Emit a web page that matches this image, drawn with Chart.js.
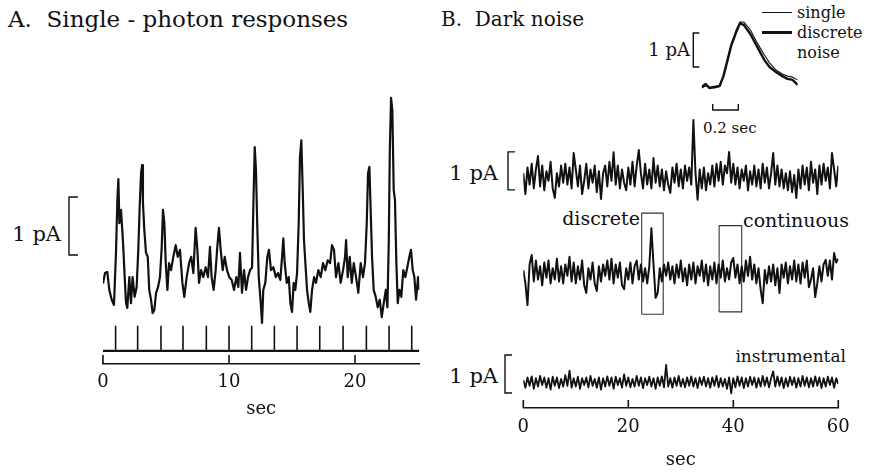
<!DOCTYPE html>
<html lang="en">
<head>
<meta charset="UTF-8">
<title>Single-photon responses and dark noise</title>
<script src="https://cdn.jsdelivr.net/npm/chart.js"></script>
<style>
  body {
    margin: 0;
    background: #fff;
    width: 875px;
    height: 474px;
    position: relative;
    overflow: hidden;
    font-family: 'DejaVu Serif', serif;
    color: #111;
  }
  canvas { position: absolute; left: 0; top: 0; }
  .lbl { position: absolute; white-space: nowrap; line-height: 1; transform: translateY(-50%); }
  .right { transform: translate(-100%, -50%); }
  .key { position: absolute; background: #111; width: 30px; }
</style>
</head>
<body>
  <div class="lbl" style="left:8px; top:19px; font-size:23px;">A.&nbsp; Single - photon responses</div>
  <div class="lbl" style="left:441px; top:19px; font-size:20px;">B.&nbsp; Dark noise</div>

  <div class="lbl right" style="left:61px; top:234px; font-size:21px;">1 pA</div>
  <div class="lbl right" style="left:498px; top:173px; font-size:21px;">1 pA</div>
  <div class="lbl right" style="left:498px; top:376px; font-size:21px;">1 pA</div>
  <div class="lbl right" style="left:690px; top:50px; font-size:18px;">1 pA</div>

  <div class="lbl right" style="left:640px; top:218px; font-size:19px;">discrete</div>
  <div class="lbl" style="left:743px; top:220px; font-size:19px;">continuous</div>
  <div class="lbl right" style="left:846px; top:356px; font-size:17px;">instrumental</div>

  <div class="key" style="left:762px; top:12px; height:1px;"></div>
  <div class="key" style="left:762px; top:31px; height:2.5px;"></div>
  <div class="lbl" style="left:797px; top:13px; font-size:16px;">single</div>
  <div class="lbl" style="left:797px; top:33px; font-size:16px;">discrete</div>
  <div class="lbl" style="left:797px; top:53px; font-size:16px;">noise</div>
  <div class="lbl" style="left:703px; top:128px; font-size:15px;">0.2 sec</div>

  <canvas id="chartA" width="875" height="474"></canvas>
  <canvas id="chartB" width="875" height="474"></canvas>
  <canvas id="chartInset" width="875" height="474"></canvas>

<script>
// ---- Panel A: single-photon responses, current (pA) vs time (sec)
const aTime = [0, 0.16, 0.34, 0.5, 0.69, 0.87, 1.03, 1.14, 1.22, 1.3,
  1.43, 1.53, 1.61, 1.72, 1.83, 1.93, 2.09, 2.22, 2.35, 2.51,
  2.67, 2.8, 2.91, 3.02, 3.1, 3.17, 3.28, 3.41, 3.55, 3.67,
  3.81, 3.94, 4.07, 4.21, 4.37, 4.52, 4.66, 4.76, 4.87, 4.98,
  5.11, 5.24, 5.4, 5.58, 5.77, 5.93, 6.11, 6.3, 6.45, 6.64,
  6.83, 7.0, 7.17, 7.35, 7.49, 7.62, 7.78, 7.96, 8.15, 8.33,
  8.49, 8.62, 8.78, 8.94, 9.07, 9.2, 9.34, 9.5, 9.66, 9.84,
  10.02, 10.21, 10.4, 10.58, 10.74, 10.87, 11.03, 11.19, 11.35, 11.51,
  11.67, 11.83, 11.93, 12.04, 12.14, 12.25, 12.36, 12.52, 12.62,
  12.72, 12.88, 13.04, 13.17, 13.33, 13.52, 13.71, 13.89, 14.07, 14.21,
  14.31, 14.42, 14.58, 14.74, 14.87, 15.0, 15.13, 15.26, 15.4, 15.53,
  15.63, 15.74, 15.85, 15.95, 16.06, 16.19, 16.33, 16.45, 16.59, 16.75,
  16.9, 17.09, 17.28, 17.46, 17.64, 17.83, 18.02, 18.17, 18.33, 18.49,
  18.68, 18.86, 19.05, 19.21, 19.29, 19.42, 19.58, 19.74, 19.9, 20.08,
  20.26, 20.45, 20.63, 20.79, 20.93, 21.03, 21.14, 21.24, 21.35, 21.48,
  21.64, 21.8, 21.96, 22.12, 22.28, 22.44, 22.57, 22.68, 22.76, 22.86,
  22.96, 23.07, 23.17, 23.28, 23.39, 23.52, 23.67, 23.83, 23.99, 24.15,
  24.31, 24.44, 24.58, 24.71, 24.84, 25.0, 25.1];
const aCurrent = [-0.06, 0.12, 0.14, -0.17, -0.34, -0.43, 0.47, 1.38, 1.74, 0.98,
  1.21, 0.86, 0.57, 0.05, -0.4, -0.48, 0.05, -0.4, 0.05, -0.29,
  -0.12, 0.52, 1.26, 1.84, 1.98, 1.33, 0.86, 0.47, 0.4, -0.17,
  -0.34, -0.57, -0.52, -0.22, -0.12, 0.05, 0.57, 1.21, 0.98, 0.29,
  -0.17, 0.29, 0.17, 0.4, 0.6, 0.4, 0.52, -0.05, -0.29, 0.05,
  0.29, 0.4, 0.12, 0.9, 0.52, -0.05, 0.17, 0.05, 0.22, 0.05,
  0.57, 0.05, -0.17, 0.17, 0.57, 0.9, 0.52, 0.17, 0.4, 0.17,
  0.05, 0, -0.17, 0.05, -0.12, 0.47, -0.22, 0.17, -0.17, 0.05,
  0.17, 0.22, 1.26, 2.29, 1.9, 0.86, 0.05, -0.4, -0.74,
  -0.17, -0.05, 0.4, 0.52, 0.17, 0.22, 0.05, 0.12, 0, 0.4,
  0.72, 0.29, -0.05, 0.05, -0.4, -0.55, -0.05, -0.17, 0.12, 0.98,
  2.12, 2.41, 1.55, 0.69, 0.29, -0.17, -0.4, -0.55, -0.17, 0.05,
  -0.05, 0.17, 0.05, 0.29, 0.17, 0.34, 0.29, 0.6, 0.52, 0.05,
  0.29, -0.05, 0.17, 0.4, 0.69, 0.05, 0.4, -0.05, 0.29, 0.05,
  -0.22, 0.29, 0.05, 0.29, 0.98, 1.84, 1.95, 1.21, 0.4, -0.17,
  -0.29, -0.47, -0.34, -0.64, -0.4, -0.17, -0.47, 0.69, 2.24, 3.14,
  2.93, 1.55, 1.38, 0.29, -0.4, -0.17, -0.29, 0.17, 0.05, 0.22,
  0.4, 0.52, 0.17, 0.05, -0.34, 0.05, -0.17];
// flash times (sec)
const aFlashTimes = [1.0, 2.75, 4.6, 6.35, 8.2, 10.0, 11.8, 13.6, 15.4, 17.2, 19.05, 20.9, 22.7, 24.5];
const aTicks = [0, 10, 20];

// ---- Panel B: dark noise, sampled every 0.4 sec (pA)
const bDt = 0.4;
const bNoiseTop = [0.1, -0.45, 0.25, -0.2, 0.35, -0.3, 0.2, 0.55, -0.25, 0.3,
  -0.35, 0.15, -0.1, 0.4, -0.3, -0.55, 0.1, -0.25, 0.3, -0.15,
  0.35, -0.2, 0.25, -0.3, 0.63, 0.2, -0.25, 0.3, -0.45, -0.1,
  0.35, -0.3, 0.2, -0.15, 0.3, -0.4, 0.15, -0.58, 0.1, 0.3,
  -0.25, 0.4, -0.1, 0.65, -0.2, 0.3, -0.3, 0.2, -0.15, -0.35,
  0.25, -0.2, 0.4, -0.25, 0.3, 0.71, 0.1, -0.3, 0.35, -0.2,
  0.2, -0.3, 0.5, -0.15, 0.3, -0.25, 0.2, -0.35, 0.15, -0.2,
  -0.42, 0.25, -0.15, 0.35, -0.25, 0.2, -0.3, 0.3, -0.1, 0.25,
  -0.2, 1.5, 0.1, -0.6, 0.2, -0.3, 0.25, -0.35, 0.1, -0.2,
  0.3, -0.25, 0.35, -0.1, 0.4, -0.2, 0.3, 0.1, 0.66, -0.15,
  0.35, -0.2, 0.25, -0.3, 0.2, -0.1, 0.3, -0.35, 0.15, -0.2,
  0.3, -0.25, 0.2, -0.3, 0.35, -0.15, 0.25, -0.3, 0.1, 0.63,
  -0.2, 0.3, -0.25, 0.2, -0.3, 0.1, -0.35, 0.15, -0.4, 0.05,
  -0.55, 0.2, -0.3, 0.3, -0.2, 0.25, -0.35, 0.4, -0.15, 0.2,
  -0.45, 0.3, -0.2, 0.35, -0.1, 0.25, -0.3, 0.63, 0.2, -0.25,
  0.3];
const bNoiseMid = [0.05, -0.3, -0.87, 0.2, 0.45, -0.25, 0.3, -0.2, 0.15, -0.35,
  0.25, -0.15, 0.3, -0.3, 0.1, -0.2, 0.35, -0.25, 0.15, -0.3,
  0.2, -0.1, 0.4, -0.25, 0.25, -0.3, 0.15, -0.2, 0.3, -0.35,
  -0.55, 0.1, -0.2, 0.25, -0.3, -0.5, 0.15, -0.25, 0.2, -0.1,
  0.3, -0.2, 0.35, -0.3, 0.2, -0.15, 0.25, -0.35, -0.45, 0.1,
  -0.2, 0.25, -0.3, 0.15, 0.3, -0.2, 0.2, -0.25, 0.1, -0.3,
  0.15, 1.15, 0.2, -0.68, -0.55, 0.1, -0.25, 0.2, -0.1, 0.25,
  -0.2, 0.15, -0.3, 0.2, -0.15, 0.3, -0.25, 0.1, -0.35, 0.2,
  -0.2, 0.25, -0.3, 0.15, -0.1, 0.3, -0.25, 0.2, -0.35, 0.15,
  -0.2, 0.25, -0.3, 0.2, -0.15, 0.3, -0.25, 0.1, -0.2, 0.25,
  0.37, -0.15, 0.2, -0.3, 0.15, -0.25, 0.3, -0.1, 0.4, -0.2,
  0.2, -0.3, 0.1, -0.45, -0.82, 0.05, -0.3, 0.15, -0.25, 0.2,
  -0.35, 0.1, -0.55, 0.2, -0.15, 0.25, -0.3, 0.15, -0.2, 0.3,
  -0.25, 0.2, -0.3, 0.25, -0.15, 0.3, -0.4, -0.2, 0.1, -0.66,
  -0.3, 0.15, -0.25, 0.2, 0.32, -0.1, 0.3, -0.2, 0.5, 0.25,
  0.35];
const bNoiseInstr = [0.05, -0.15, 0.12, -0.1, 0.15, -0.18, 0.1, -0.12, 0.16, -0.08,
  0.12, -0.15, 0.1, -0.2, 0.14, -0.1, 0.12, -0.16, 0.08, -0.12,
  0.18, -0.1, 0.3, -0.15, 0.1, -0.12, 0.14, -0.18, 0.1, -0.08,
  0.12, -0.14, 0.16, -0.1, 0.08, -0.15, 0.12, -0.2, 0.1, -0.12,
  0.15, -0.1, 0.12, -0.18, 0.14, -0.08, 0.1, -0.15, 0.2, -0.1,
  0.12, -0.14, 0.08, -0.12, 0.16, -0.1, 0.12, -0.16, 0.1, -0.08,
  0.14, -0.12, 0.1, -0.18, 0.12, -0.1, 0.15, -0.14, 0.45, -0.12,
  0.1, -0.15, 0.12, -0.1, 0.16, -0.12, 0.08, -0.14, 0.12, -0.1,
  0.15, -0.12, 0.1, -0.16, 0.12, -0.08, 0.14, -0.12, 0.1, -0.15,
  0.12, -0.1, 0.16, -0.14, 0.1, -0.12, 0.08, -0.18, 0.12, -0.3,
  0.1, -0.14, 0.15, -0.1, 0.12, -0.16, 0.1, -0.12, 0.14, -0.08,
  0.12, -0.15, 0.1, -0.12, 0.16, -0.1, 0.12, -0.14, 0.1, 0.28,
  -0.12, 0.15, -0.1, 0.12, -0.16, 0.1, -0.12, 0.14, -0.08, 0.12,
  -0.15, 0.1, -0.12, 0.16, -0.1, 0.12, -0.14, 0.1, -0.12, 0.15,
  -0.1, 0.12, -0.16, 0.1, -0.12, 0.14, -0.08, 0.12, -0.15, 0.1,
  -0.05];
// analysis windows (sec) marked by boxes on the middle trace
const discreteWindow = [22.55, 26.65];
const continuousWindow = [37.3, 41.6];
const bTicks = [0, 20, 40, 60];

// ---- Inset: averaged responses, time (sec) and current (pA)
const insetTime = [0, 0.03, 0.06, 0.1, 0.14, 0.17, 0.2, 0.23, 0.27, 0.3,
  0.33, 0.38, 0.43, 0.49, 0.53, 0.58, 0.63, 0.67, 0.71, 0.75];
const insetSingle = [-0.03, 0.03, 0, -0.03, 0.03, 0.35, 0.79, 1.26, 1.68, 1.91,
  1.91, 1.68, 1.32, 0.94, 0.71, 0.5, 0.38, 0.32, 0.29, 0.21];
const insetDiscrete = [0, 0.09, -0.03, 0, 0.03, 0.32, 0.76, 1.21, 1.62, 1.88,
  1.82, 1.56, 1.21, 0.79, 0.59, 0.44, 0.32, 0.24, 0.21, 0.06];

const INK = '#111';
Chart.defaults.font.family = "'DejaVu Serif', serif";
Chart.defaults.color = INK;

// scale bars, inward axis ticks
const marks = {
  id: 'marks',
  afterDraw(chart, args, opts) {
    const ctx = chart.ctx;
    ctx.save();
    ctx.strokeStyle = INK;
    ctx.lineCap = 'butt';
    if (opts.tickLen) {
      const xs = chart.scales.x, y0 = chart.chartArea.bottom;
      ctx.lineWidth = 1.6;
      xs.ticks.forEach(t => {
        const px = xs.getPixelForValue(t.value);
        ctx.beginPath();
        ctx.moveTo(px, y0);
        ctx.lineTo(px, y0 - opts.tickLen);
        ctx.stroke();
      });
    }
    (opts.brackets || []).forEach(b => {
      const ys = chart.scales[b.scale];
      const top = ys.getPixelForValue(b.from + 1);
      const bot = ys.getPixelForValue(b.from);
      ctx.lineWidth = 1.4;
      ctx.beginPath();
      ctx.moveTo(b.x + b.serif, top);
      ctx.lineTo(b.x, top);
      ctx.lineTo(b.x, bot);
      ctx.lineTo(b.x + b.serif, bot);
      ctx.stroke();
    });
    if (opts.timeBar) {
      const xs = chart.scales.x, tb = opts.timeBar;
      const x0 = xs.getPixelForValue(tb.start);
      const x1 = xs.getPixelForValue(tb.start + tb.length);
      ctx.lineWidth = 1.4;
      ctx.beginPath();
      ctx.moveTo(x0, tb.y - 6);
      ctx.lineTo(x0, tb.y);
      ctx.lineTo(x1, tb.y);
      ctx.lineTo(x1, tb.y - 6);
      ctx.stroke();
    }
    ctx.restore();
  }
};

const baseOpts = {
  responsive: false,
  animation: false,
  events: [],
  devicePixelRatio: 1,
  elements: { point: { radius: 0 }, line: { tension: 0, borderColor: INK, borderJoinStyle: 'round' } },
  plugins: { legend: { display: false }, tooltip: { enabled: false } }
};

function xAxis(min, max, ticks, height, labelPad, titlePad) {
  return {
    type: 'linear', min: min, max: max,
    afterFit: s => { s.height = height; },
    afterBuildTicks: s => { s.ticks = ticks.map(v => ({ value: v })); },
    grid: { display: false, drawTicks: false },
    border: { display: true, color: INK, width: 1.6 },
    ticks: { padding: labelPad, color: INK, font: { size: 18 } },
    title: { display: true, text: 'sec', color: INK, font: { size: 18 }, padding: { top: 0, bottom: titlePad } }
  };
}

function series(xs, ys) { return xs.map((x, i) => ({ x: x, y: ys[i] })); }
function sampled(ys, dt) { return ys.map((y, i) => ({ x: i * dt, y: y })); }

// ---- chart A
const FLASH_BASE = -1.22, FLASH_TOP = -0.79;
const flashData = [];
aFlashTimes.forEach(t => {
  flashData.push({ x: t, y: FLASH_BASE }, { x: t, y: FLASH_TOP }, { x: t, y: null });
});
const A_XMAX = 25.1;

new Chart(document.getElementById('chartA'), {
  type: 'line',
  data: {
    datasets: [
      { data: series(aTime, aCurrent), borderWidth: 2.2 },
      { data: flashData, borderWidth: 1.6, spanGaps: false },
      { data: [{ x: 0, y: FLASH_BASE }, { x: A_XMAX, y: FLASH_BASE }], borderWidth: 2.2 }
    ]
  },
  options: Object.assign({}, baseOpts, {
    layout: { padding: { left: 103, right: 875 - 419.3, top: 90, bottom: 0 } },
    scales: {
      x: xAxis(0, A_XMAX, aTicks, 110, 8, 54),
      y: { display: false, min: -1.448, max: 3.276 }
    },
    plugins: Object.assign({}, baseOpts.plugins, {
      marks: { tickLen: 9, brackets: [{ scale: 'y', x: 69, from: 0.43, serif: 9 }] }
    })
  }),
  plugins: [marks]
});

// ---- chart B
function box(win, lo, hi) {
  return [{ x: win[0], y: lo }, { x: win[0], y: hi }, { x: win[1], y: hi }, { x: win[1], y: lo }, { x: win[0], y: lo }];
}

new Chart(document.getElementById('chartB'), {
  type: 'line',
  data: {
    datasets: [
      { data: sampled(bNoiseTop, bDt), yAxisID: 'y1', borderWidth: 2.0 },
      { data: sampled(bNoiseMid, bDt), yAxisID: 'y2', borderWidth: 2.0 },
      { data: sampled(bNoiseInstr, bDt), yAxisID: 'y3', borderWidth: 1.8 },
      { data: box(discreteWindow, -1.11, 1.55), yAxisID: 'y2', borderWidth: 1.1, borderColor: '#333' },
      { data: box(continuousWindow, -1.05, 1.22), yAxisID: 'y2', borderWidth: 1.1, borderColor: '#333' }
    ]
  },
  options: Object.assign({}, baseOpts, {
    layout: { padding: { left: 523.3, right: 875 - 838.3, top: 110, bottom: 0 } },
    scales: {
      x: xAxis(0, 60, bTicks, 66, 9, 3),
      y1: { display: false, min: -6.079, max: 1.763 },
      y2: { display: false, min: -3.579, max: 4.263 },
      y3: { display: false, min: -0.684, max: 7.158 }
    },
    plugins: Object.assign({}, baseOpts.plugins, {
      marks: {
        tickLen: 8,
        brackets: [
          { scale: 'y1', x: 508, from: -0.34, serif: 7 },
          { scale: 'y3', x: 505, from: -0.29, serif: 7 }
        ]
      }
    })
  }),
  plugins: [marks]
});

// ---- inset
new Chart(document.getElementById('chartInset'), {
  type: 'line',
  data: {
    datasets: [
      { data: series(insetTime, insetDiscrete), borderWidth: 2.4 },
      { data: series(insetTime, insetSingle), borderWidth: 1.1 }
    ]
  },
  options: Object.assign({}, baseOpts, {
    layout: { padding: { left: 701.7, right: 875 - 797.7, top: 20, bottom: 474 - 90 } },
    scales: {
      x: { type: 'linear', display: false, min: 0, max: 0.75 },
      y: { type: 'linear', display: false, min: -0.088, max: 1.97 }
    },
    plugins: Object.assign({}, baseOpts.plugins, {
      marks: {
        brackets: [{ scale: 'y', x: 693.3, from: 0.59, serif: 6 }],
        timeBar: { start: 0.086, length: 0.2, y: 110 }
      }
    })
  }),
  plugins: [marks]
});
</script>
</body>
</html>
